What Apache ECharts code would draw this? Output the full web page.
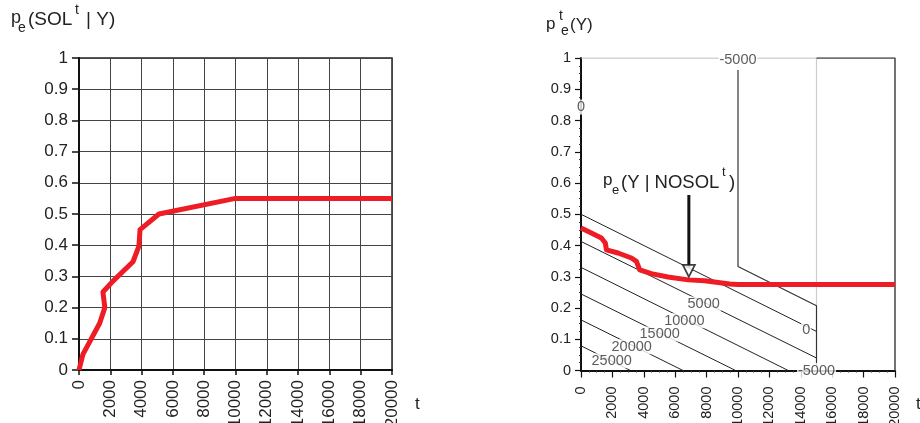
<!DOCTYPE html>
<html>
<head>
<meta charset="utf-8">
<script src="https://cdn.jsdelivr.net/npm/echarts@6/dist/echarts.min.js"></script>
<style>html,body{margin:0;padding:0;background:#fff;}#c{width:920px;height:423px;}</style>
</head>
<body>
<div id="c"></div>
<script>
// ---------- data ----------
var xTicks = [0, 2000, 4000, 6000, 8000, 10000, 12000, 14000, 16000, 18000, 20000];
// left panel: p_e(SOL^t | Y)
var solT = [0, 250, 1320, 1650, 1530, 2170, 3450, 3830, 3900, 5110, 10000, 20000];
var solV = [0, 0.05, 0.15, 0.2, 0.25, 0.285, 0.347, 0.397, 0.45, 0.5, 0.55, 0.55];
// right panel: p_e(Y | NOSOL^t)
var nosolT = [0, 660, 1300, 1550, 1620, 2360, 3210, 3530, 3740, 4480, 5540, 6820, 7880, 9470, 10000, 20000];
var nosolV = [0.456, 0.44, 0.424, 0.408, 0.386, 0.376, 0.36, 0.349, 0.322, 0.31, 0.299, 0.29, 0.287, 0.277, 0.275, 0.275];
// contour lines (t, p) of the right panel
var contour0 = [[0, 0.5], [15000, 0.125]];
var contour5000 = [[0, 0.413], [15000, 0.04]];
var contour10000 = [[0, 0.33], [13200, 0]];
var contour15000 = [[0, 0.245], [9850, 0]];
var contour20000 = [[0, 0.162], [6500, 0]];
var contour25000 = [[0, 0.079], [3150, 0]];
var contourNeg5000 = [[10000, 0.962], [10000, 0.333], [15000, 0.207], [15000, 0.018]];
var edgeTopGray = [[0, 1], [15000, 1]];
var edgeTopDark = [[15000, 1], [20000, 1], [20000, 0]];
var edgeMidGray = [[15000, 1], [15000, 0.207]];
// contour labels
var contourLabelText = ['0', '5000', '10000', '15000', '20000', '25000', '-5000', '-5000', '0'];
var contourLabelT = [14344, 7814, 6586, 5013, 3229, 1955, 10000, 15000, 0];
var contourLabelV = [0.130, 0.213, 0.159, 0.117, 0.076, 0.031, 0.995, 0.0, 0.843];
// annotation arrow
var arrowT = 6870;
var arrowV = [0.562, 0.33];
var arrowHeadV = 0.319;

// ---------- chart ----------
var FONT = 'Liberation Sans, Arial, sans-serif';
var RED = '#ee1c25';
function pairs(xs, ys) { return xs.map(function (x, i) { return [x, ys[i]]; }); }
function plain(v) { return String(v); }

function thinLine(data, color, width) {
  return {
    type: 'line', xAxisIndex: 1, yAxisIndex: 1, data: data, showSymbol: false, symbol: 'none',
    lineStyle: { color: color, width: width || 1 }, silent: true, z: 3, animation: false
  };
}

var chart = echarts.init(document.getElementById('c'), null, { renderer: 'canvas' });

var option = {
  animation: false,
  backgroundColor: '#fff',
  grid: [
    { left: 79, top: 58, width: 313, height: 312, show: true, borderColor: '#222', borderWidth: 1.5, containLabel: false, outerBoundsMode: 'none' },
    { left: 581, top: 58, width: 314, height: 312.5, show: false, containLabel: false, outerBoundsMode: 'none' }
  ],
  xAxis: [
    {
      gridIndex: 0, type: 'value', min: 0, max: 20000, interval: 2000,
      axisLine: { show: true, onZero: false, lineStyle: { color: '#111', width: 2 } },
      axisTick: { show: true, length: 5, lineStyle: { color: '#111', width: 1.5 } },
      axisLabel: { rotate: 90, margin: 10, fontSize: 17, color: '#222', fontFamily: FONT, formatter: plain },
      splitLine: { show: true, lineStyle: { color: '#444', width: 1 } }
    },
    {
      gridIndex: 1, type: 'value', min: 0, max: 20000, interval: 2000,
      axisLine: { show: true, onZero: false, lineStyle: { color: '#111', width: 2 } },
      axisTick: { show: true, length: 7, lineStyle: { color: '#111', width: 1.2 } },
      minorTick: { show: true, splitNumber: 4, length: 2, lineStyle: { color: '#333' } },
      axisLabel: { rotate: 90, margin: 16, fontSize: 14.5, color: '#222', fontFamily: FONT, formatter: plain },
      splitLine: { show: false }
    }
  ],
  yAxis: [
    {
      gridIndex: 0, type: 'value', min: 0, max: 1, interval: 0.1,
      axisLine: { show: true, onZero: false, lineStyle: { color: '#111', width: 2 } },
      axisTick: { show: true, length: 7, lineStyle: { color: '#111', width: 1.5 } },
      axisLabel: { margin: 11, fontSize: 17, color: '#222', fontFamily: FONT },
      splitLine: { show: true, lineStyle: { color: '#444', width: 1 } }
    },
    {
      gridIndex: 1, type: 'value', min: 0, max: 1, interval: 0.1,
      axisLine: { show: true, onZero: false, lineStyle: { color: '#111', width: 2 } },
      axisTick: { show: true, length: 6, lineStyle: { color: '#111', width: 1.2 } },
      minorTick: { show: true, splitNumber: 4, length: 2, lineStyle: { color: '#333' } },
      axisLabel: { margin: 10, fontSize: 14.5, color: '#222', fontFamily: FONT },
      splitLine: { show: false }
    }
  ],
  series: [
    {
      type: 'line', xAxisIndex: 0, yAxisIndex: 0, data: pairs(solT, solV), showSymbol: false, symbol: 'none',
      lineStyle: { color: RED, width: 5, join: 'round' }, z: 5
    },
    thinLine(edgeTopGray, '#aaa', 1.2),
    thinLine(edgeMidGray, '#ccc', 1.2),
    thinLine(edgeTopDark, '#444', 1.5),
    thinLine(contour0, '#222', 1),
    thinLine(contour5000, '#222', 1),
    thinLine(contour10000, '#222', 1),
    thinLine(contour15000, '#222', 1),
    thinLine(contour20000, '#222', 1),
    thinLine(contour25000, '#222', 1),
    thinLine(contourNeg5000, '#333', 1.2),
    {
      type: 'scatter', xAxisIndex: 1, yAxisIndex: 1, symbolSize: 0, silent: true, z: 4,
      data: contourLabelText.map(function (txt, i) { return { name: txt, value: [contourLabelT[i], contourLabelV[i]] }; }),
      label: {
        show: true, position: 'inside', formatter: '{b}', fontSize: 14.5, color: '#333', fontFamily: FONT,
        backgroundColor: '#fff', padding: [0, 1]
      }
    },
    {
      type: 'line', xAxisIndex: 1, yAxisIndex: 1, data: pairs(nosolT, nosolV), showSymbol: false, symbol: 'none',
      lineStyle: { color: RED, width: 5, join: 'round' }, z: 6
    },
    {
      type: 'line', xAxisIndex: 1, yAxisIndex: 1, data: [[arrowT, arrowV[0]], [arrowT, arrowV[1]]], showSymbol: false, symbol: 'none',
      lineStyle: { color: '#111', width: 3 }, z: 7
    },
    {
      type: 'scatter', xAxisIndex: 1, yAxisIndex: 1, data: [[arrowT, arrowHeadV]], symbol: 'triangle', symbolRotate: 180,
      symbolSize: [12, 12], itemStyle: { color: '#fff', borderColor: '#111', borderWidth: 1.8 }, z: 8, silent: true
    }
  ],
  graphic: [
    // left title p_e (SOL^t | Y)
    { type: 'text', left: 11, top: 9, style: { text: 'p', fontSize: 18, fontFamily: FONT, fill: '#222' } },
    { type: 'text', left: 18, top: 21, style: { text: 'e', fontSize: 14, fontFamily: FONT, fill: '#222' } },
    { type: 'text', left: 28, top: 10, style: { text: '(SOL', fontSize: 19, fontFamily: FONT, fill: '#222' } },
    { type: 'text', left: 75, top: 3, style: { text: 't', fontSize: 14, fontFamily: FONT, fill: '#222' } },
    { type: 'text', left: 86, top: 10, style: { text: '| Y)', fontSize: 19, fontFamily: FONT, fill: '#222' } },
    { type: 'text', left: 415, top: 396, style: { text: 't', fontSize: 17, fontFamily: FONT, fill: '#222' } },
    // right title p^t_e(Y)
    { type: 'text', left: 546, top: 16, style: { text: 'p', fontSize: 17, fontFamily: FONT, fill: '#222' } },
    { type: 'text', left: 559, top: 9, style: { text: 't', fontSize: 14, fontFamily: FONT, fill: '#222' } },
    { type: 'text', left: 561, top: 24, style: { text: 'e', fontSize: 14, fontFamily: FONT, fill: '#222' } },
    { type: 'text', left: 570, top: 17, style: { text: '(Y)', fontSize: 17, fontFamily: FONT, fill: '#222' } },
    { type: 'text', left: 916, top: 396, style: { text: 't', fontSize: 17, fontFamily: FONT, fill: '#222' } },
    // annotation p_e (Y | NOSOL^t)
    { type: 'text', left: 603, top: 172, style: { text: 'p', fontSize: 17, fontFamily: FONT, fill: '#222' } },
    { type: 'text', left: 612, top: 184, style: { text: 'e', fontSize: 13, fontFamily: FONT, fill: '#222' } },
    { type: 'text', left: 621, top: 173, style: { text: '(Y | NOSOL', fontSize: 18.5, fontFamily: FONT, fill: '#222' } },
    { type: 'text', left: 722, top: 166, style: { text: 't', fontSize: 13, fontFamily: FONT, fill: '#222' } },
    { type: 'text', left: 729, top: 173, style: { text: ')', fontSize: 18.5, fontFamily: FONT, fill: '#222' } }
  ]
};
chart.setOption(option);
</script>
</body>
</html>
